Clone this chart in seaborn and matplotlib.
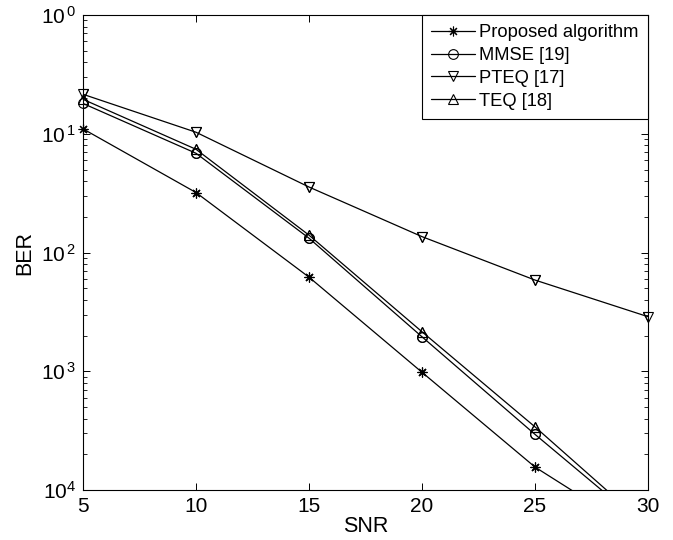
import numpy as np
import pandas as pd
import matplotlib
matplotlib.use("Agg")
import matplotlib.pyplot as plt
import seaborn as sns

# данные
snr = [5, 10, 15, 20, 25, 30]
ber_proposed = [0.110, 0.032, 0.0062, 0.00098, 0.000156, 0.000039]
ber_mmse = [0.180, 0.0685, 0.0132, 0.00195, 0.000294, 0.000047]
ber_pteq = [0.215, 0.103, 0.0356, 0.0136, 0.00586, 0.00288]
ber_teq = [0.195, 0.074, 0.0140, 0.00215, 0.00034, 0.000049]

y_ticks = [1, 1e-1, 1e-2, 1e-3, 1e-4]
y_tick_labels = ["$\\mathregular{10^{\\,0}}$", "$\\mathregular{10^{\\,1}}$",
                 "$\\mathregular{10^{\\,2}}$", "$\\mathregular{10^{\\,3}}$",
                 "$\\mathregular{10^{4}}$"]

sns.set_style("ticks")
plt.rcParams["font.family"] = ["Liberation Sans", "DejaVu Sans"]
plt.rcParams["mathtext.fontset"] = "custom"
plt.rcParams["mathtext.rm"] = "Liberation Sans"
plt.rcParams["text.color"] = "black"
plt.rcParams["axes.labelcolor"] = "black"
plt.rcParams["xtick.color"] = "black"
plt.rcParams["ytick.color"] = "black"
plt.rcParams["axes.edgecolor"] = "black"

fig = plt.figure(figsize=(6.73, 5.40), dpi=100)
ax = fig.add_axes([0.1233, 0.0926, 0.8396, 0.8796])

series = [
    ("Proposed algorithm", ber_proposed, (8, 2, 0)),
    ("MMSE [19]", ber_mmse, "o"),
    ("PTEQ [17]", ber_pteq, "v"),
    ("TEQ [18]", ber_teq, "^"),
]
ymin, ymax = 1e-4, 1
for name, vals, mk in series:
    # линия (обрезается по осям)
    sns.lineplot(x=snr, y=vals, ax=ax, color="black", linewidth=0.9,
                 marker=mk, markersize=7, markerfacecolor="none",
                 markeredgecolor="black", markeredgewidth=0.8, label=name)
    # маркеры на краях осей не обрезаем
    xs = [x for x, v in zip(snr, vals) if v >= ymin]
    vs = [v for v in vals if v >= ymin]
    sns.lineplot(x=xs, y=vs, ax=ax, linestyle="none", marker=mk, markersize=7,
                 markerfacecolor="none", markeredgecolor="black",
                 markeredgewidth=0.8, clip_on=False, legend=False)

ax.set_yscale("log")
ax.set_xlim(5, 30)
ax.set_ylim(ymin, ymax)
ax.set_xticks([5, 10, 15, 20, 25, 30])
ax.set_yticks(y_ticks)
ax.set_yticklabels(y_tick_labels)
ax.tick_params(axis="both", which="both", direction="in", top=True, right=True,
               labelsize=15, pad=5)
ax.tick_params(which="major", length=5, width=0.7)
ax.tick_params(which="minor", length=3, width=0.6)
for s in ax.spines.values():
    s.set_linewidth(0.8)

ax.set_xlabel("SNR", fontsize=15.5, labelpad=0)
ax.set_ylabel("BER", fontsize=15.5, labelpad=4)

leg = ax.legend(loc="upper right", borderaxespad=0, fontsize=13.2,
                fancybox=False, framealpha=1, edgecolor="black",
                handlelength=2.4, handletextpad=0.25, labelspacing=0.32,
                borderpad=0.5)
leg.get_frame().set_linewidth(0.8)

fig.savefig("out.png", dpi=100)
